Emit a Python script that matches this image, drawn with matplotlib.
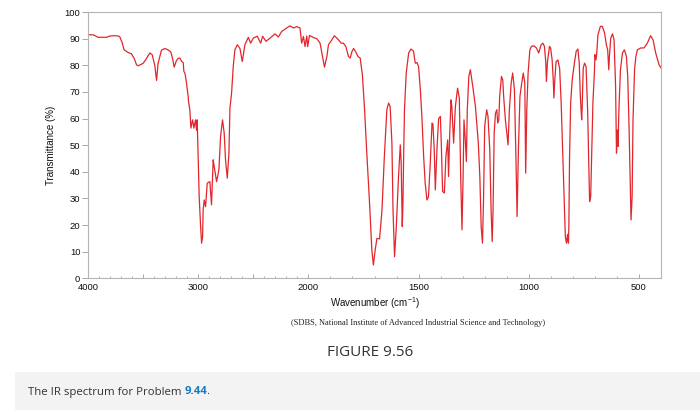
import numpy as np
import matplotlib
matplotlib.use("Agg")
import matplotlib.pyplot as plt
from matplotlib.patches import Rectangle

# ---- data (wavenumber cm^-1, transmittance %) ----
wavenumber = [4000, 3950, 3909, 3833, 3800, 3760, 3727, 3712, 3690, 3673, 3636, 3606, 3580, 3560, 3545,
              3500, 3470, 3439, 3418, 3394, 3378, 3364, 3333, 3303, 3275, 3248, 3230, 3218, 3200, 3182,
              3166, 3151, 3136, 3130, 3120, 3106, 3091, 3088, 3076, 3066, 3051, 3039, 3024, 3015, 3009,
              3000, 2991, 2978, 2969, 2960, 2955, 2945, 2933, 2918, 2894, 2879, 2869, 2864, 2855, 2833,
              2812, 2797, 2779, 2764, 2752, 2736, 2721, 2712, 2697, 2682, 2667, 2645, 2621, 2600, 2576,
              2545, 2524, 2500, 2464, 2433, 2415, 2385, 2348, 2303, 2273, 2242, 2197, 2167, 2136, 2106,
              2076, 2061, 2045, 2030, 2015, 2006, 1995, 1977, 1962, 1947, 1936, 1927, 1916, 1909, 1894,
              1882, 1866, 1851, 1841, 1830, 1818, 1810, 1803, 1795, 1785, 1775, 1765, 1755, 1745, 1735,
              1724, 1715, 1712, 1705, 1697, 1689, 1677, 1666, 1656, 1644, 1636, 1629, 1621, 1616, 1609,
              1601, 1591, 1583, 1579, 1574, 1571, 1568, 1564, 1556, 1545, 1535, 1523, 1515, 1507, 1500,
              1492, 1485, 1477, 1470, 1462, 1455, 1447, 1439, 1435, 1429, 1424, 1416, 1409, 1401, 1397,
              1391, 1383, 1376, 1368, 1364, 1359, 1353, 1349, 1341, 1333, 1323, 1315, 1309, 1303, 1298,
              1294, 1288, 1283, 1279, 1272, 1265, 1254, 1242, 1229, 1222, 1216, 1210, 1205, 1200, 1191,
              1185, 1177, 1171, 1166, 1162, 1157, 1151, 1145, 1141, 1136, 1132, 1124, 1118, 1114, 1106,
              1098, 1094, 1088, 1080, 1073, 1065, 1059, 1053, 1047, 1040, 1033, 1025, 1018, 1014, 1009,
              1003, 995, 988, 977, 965, 955, 944, 936, 929, 923, 920, 915, 906, 901, 894,
              889, 886, 882, 876, 868, 860, 853, 845, 838, 834, 829, 824, 820, 818, 815,
              810, 803, 793, 785, 777, 771, 766, 760, 758, 753, 747, 740, 733, 727, 724,
              719, 715, 709, 702, 700, 695, 692, 686, 675, 666, 656, 648, 642, 637, 634,
              628, 620, 613, 606, 604, 602, 598, 595, 591, 584, 575, 566, 557, 551, 545,
              540, 536, 531, 527, 520, 514, 507, 492, 477, 462, 447, 436, 424, 409, 400]
transmittance = [91.5, 91.4, 90.5, 90.5, 91.0, 91.1, 91.0, 90.7, 88.5, 85.8, 84.8, 84.3, 82.5, 80.2, 79.8,
                 80.7, 82.5, 84.6, 84.0, 80.0, 74.3, 80.7, 85.7, 86.3, 85.8, 85.0, 82.0, 79.3, 81.5, 82.6,
                 82.7, 81.5, 81.0, 77.7, 77.0, 73.3, 68.3, 66.4, 63.3, 56.4, 59.5, 56.4, 59.5, 55.6, 59.5,
                 44.5, 30.7, 19.4, 13.2, 15.7, 25.7, 29.4, 26.9, 35.7, 36.3, 27.6, 38.2, 44.5, 42.0, 36.3,
                 40.7, 53.2, 59.5, 54.5, 44.5, 37.6, 47.0, 63.9, 69.5, 79.5, 85.8, 87.7, 86.3, 81.4, 87.7,
                 90.5, 88.3, 90.2, 90.9, 88.3, 90.9, 89.0, 90.2, 91.8, 90.6, 92.7, 94.0, 94.8, 94.0, 94.5,
                 94.0, 88.3, 90.8, 87.0, 91.0, 87.0, 91.2, 90.4, 90.0, 88.3, 83.3, 79.3, 83.3, 87.7, 89.5,
                 91.1, 89.8, 88.3, 88.3, 87.0, 83.3, 82.7, 85.0, 86.3, 85.0, 83.3, 82.7, 76.4, 63.3, 47.0,
                 30.7, 15.6, 10.6, 5.0, 10.6, 15.0, 14.8, 25.7, 44.5, 63.3, 65.8, 64.5, 50.8, 25.7, 8.1,
                 19.4, 38.2, 50.1, 43.2, 19.4, 28.0, 44.5, 63.3, 77.1, 84.6, 86.1, 85.3, 80.8, 81.0, 79.5,
                 70.8, 60.8, 45.7, 35.7, 29.4, 30.7, 43.2, 58.3, 58.0, 48.3, 33.2, 49.5, 60.0, 60.8, 50.8,
                 32.6, 32.0, 45.7, 52.0, 38.2, 53.3, 67.0, 64.5, 50.8, 64.5, 71.4, 67.6, 38.2, 18.2, 38.2,
                 59.5, 52.0, 43.8, 63.3, 75.8, 78.3, 72.0, 64.5, 50.8, 38.2, 19.4, 13.2, 30.7, 57.0, 63.3,
                 60.8, 48.3, 25.7, 13.8, 25.7, 54.5, 62.0, 63.3, 58.3, 59.5, 68.3, 75.8, 74.5, 68.3, 59.5,
                 53.3, 50.1, 63.3, 73.3, 77.1, 70.8, 48.3, 23.2, 48.3, 68.3, 72.7, 77.1, 73.3, 39.5, 63.3,
                 77.1, 85.8, 87.1, 87.3, 86.5, 84.6, 87.7, 88.3, 87.1, 81.4, 73.9, 81.4, 87.1, 86.5, 82.0,
                 74.5, 67.7, 74.5, 81.4, 82.0, 78.9, 65.8, 44.5, 25.7, 15.6, 13.2, 16.5, 13.2, 20.0, 45.0,
                 65.8, 74.5, 80.8, 85.2, 86.1, 80.8, 68.3, 59.5, 63.3, 78.9, 80.8, 79.5, 63.3, 40.7, 28.8,
                 30.7, 44.5, 65.8, 77.7, 84.0, 82.0, 84.0, 91.5, 94.6, 94.6, 92.1, 87.7, 85.8, 78.3, 83.3,
                 90.2, 91.8, 89.5, 72.0, 58.3, 47.0, 55.7, 49.5, 63.3, 78.3, 84.6, 85.8, 83.3, 75.8, 57.0,
                 38.2, 21.9, 30.7, 59.5, 78.3, 83.3, 85.8, 86.5, 86.5, 88.3, 91.1, 89.5, 84.6, 80.2, 79.0]

x_major = [4000, 3500, 3000, 2500, 2000, 1500, 1000, 500]
x_major_labels = ["4000", "", "3000", "", "2000", "1500", "1000", "500"]
y_ticks = list(range(0, 101, 10))

W, H = 700, 412
plt.rcParams['font.family'] = ['Liberation Sans', 'DejaVu Sans']
plt.rcParams['mathtext.default'] = 'regular'

fig = plt.figure(figsize=(W / 100, H / 100), dpi=100)
fig.patch.set_facecolor('white')

def px(x, y):
    return x / W, 1 - y / H

l, r, t, b = 88, 661, 12, 278.3
ax = fig.add_axes([l / W, 1 - b / H, (r - l) / W, (b - t) / H])

def fwd(x):
    x = np.asarray(x, dtype=float)
    return np.where(x >= 2000, x, 2 * x - 2000)

def inv(y):
    y = np.asarray(y, dtype=float)
    return np.where(y >= 2000, y, (y + 2000) / 2)

ax.set_xscale('function', functions=(fwd, inv))
ax.plot(wavenumber, transmittance, color='#e2262d', lw=0.9)
ax.set_xlim(4000, 400)
ax.set_ylim(0, 100)

ax.set_xticks(x_major)
ax.set_xticklabels(x_major_labels)
ax.set_xticks([v for v in range(400, 4001, 100) if v not in x_major], minor=True)
ax.set_yticks(y_ticks)
ax.set_yticklabels([str(v) for v in y_ticks])

for s in ax.spines.values():
    s.set_color('#b5b5b5')
    s.set_linewidth(0.8)

ax.tick_params(axis='x', which='major', direction='in', length=2.6, width=0.6,
               color='#9a9a9a', labelsize=6.8, pad=3.5, labelcolor='#111111')
ax.tick_params(axis='x', which='minor', direction='in', length=1.5, width=0.5, color='#9a9a9a')
ax.tick_params(axis='y', which='major', direction='out', length=4, width=0.6,
               color='#9a9a9a', labelsize=6.8, pad=1.5, labelcolor='#111111')

ax.set_ylabel('Transmittance (%)', fontsize=7, color='#111111', labelpad=6)

fig.text(*px(374.5, 303), 'Wavenumber (cm$^{-1}$)', ha='center', va='center',
         fontsize=7, color='#111111')
fig.text(*px(418, 323), '(SDBS, National Institute of Advanced Industrial Science and Technology)',
         ha='center', va='center', fontsize=6.0, color='#222222', family=['Liberation Serif'])
fig.text(*px(370, 352), 'FIGURE 9.56', ha='center', va='center', fontsize=11,
         color='#333333', family=['Open Sans'])

bg = Rectangle(px(15, 410), (W - 15) / W, 38 / H, transform=fig.transFigure,
               facecolor='#f3f3f3', edgecolor='none', zorder=0)
fig.patches.append(bg)

y0 = 1 - 392 / H
t1 = fig.text(28 / W, y0, 'The IR spectrum for Problem ', ha='left', va='center',
              fontsize=8.2, color='#333333', family=['Open Sans'])
fig.canvas.draw()
rend = fig.canvas.get_renderer()
bb1 = t1.get_window_extent(rend)
t2 = fig.text(bb1.x1 / W, y0, '9.44', ha='left', va='center', fontsize=8.2,
              color='#1a7cc2', weight='bold', family=['Open Sans'])
fig.canvas.draw()
bb2 = t2.get_window_extent(rend)
fig.text((bb2.x1 - 1.5) / W, y0, '.', ha='left', va='center', fontsize=8.2,
         color='#333333', family=['Open Sans'])

fig.savefig('out.png', dpi=100)
